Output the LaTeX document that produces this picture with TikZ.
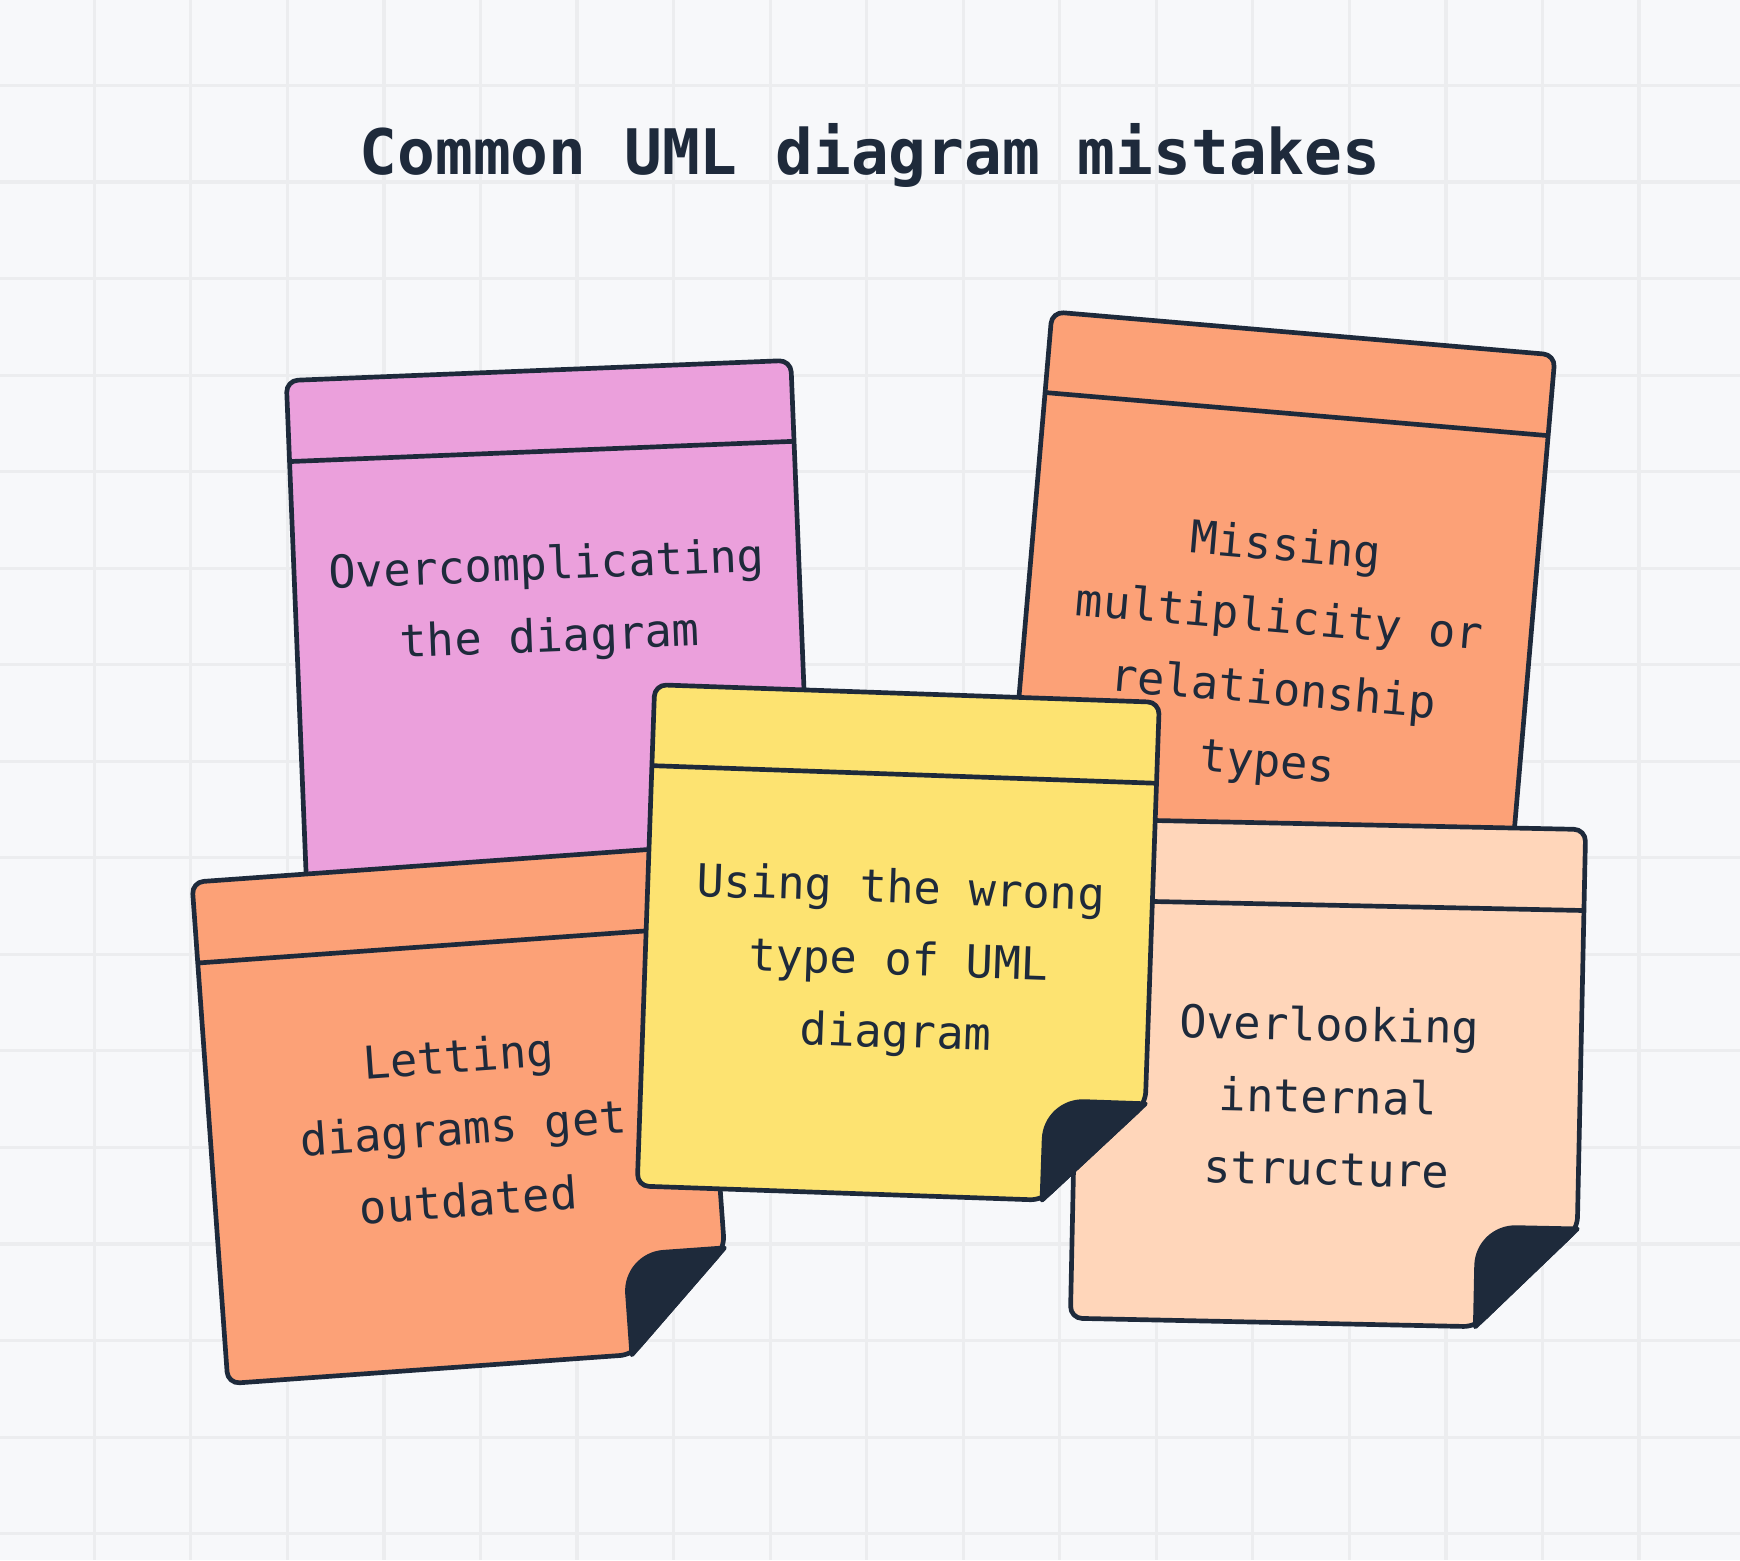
\documentclass[tikz,border=0pt]{standalone}
\usepackage{fontspec}
\setmonofont{DejaVu Sans Mono}
\usetikzlibrary{positioning}
\definecolor{bgcol}{HTML}{F7F8FA}
\definecolor{gridcol}{HTML}{ECEDEF}
\definecolor{inkcol}{HTML}{1E2A3B}
\definecolor{pinknote}{HTML}{EBA0DC}
\definecolor{orangenote}{HTML}{FCA177}
\definecolor{yellownote}{HTML}{FDE371}
\definecolor{peachnote}{HTML}{FFD6BA}

\tikzset{
  notebody/.style={draw=inkcol, line width=1.2pt, rounded corners=3pt, line join=round},
  noteband/.style={draw=inkcol, line width=1.2pt},
  notetext/.style={font=\ttfamily\fontsize{11.6}{18.5}\selectfont, text=inkcol, align=center},
  notefold/.style={fill=inkcol, draw=inkcol, line width=1.2pt, line join=round}
}

% #1 name, #2 top-left x, #3 top-left y, #4 angle, #5 height, #6 colour, #7 text y, #8 text
\newcommand\stickynote[8]{%
  \begin{scope}[shift={(#2,#3)}, rotate=#4]
    \path[notebody, fill=#6] (0,0) -- (4.55,0) -- (4.55,-#5+0.9) -- (3.65,-#5) -- (0,-#5) -- cycle;
    \draw[noteband] (0,-0.73) -- (4.55,-0.73);
    \path[notefold] (4.55,-#5+0.9) -- (3.65,-#5) -- (3.65,-#5+0.55)
      to[out=90,in=180] (4.0,-#5+0.9) -- cycle;
    \node[notetext, rotate=#4] (#1) at (2.28,#7) {#8};
  \end{scope}}

\begin{document}
\begin{tikzpicture}
  \fill[bgcol] (0,0) rectangle (15.68,-14.06);
  \useasboundingbox (0,0) rectangle (15.68,-14.06);
  % grid
  \foreach \gx in {0.85,1.72,...,15.6} \draw[gridcol, line width=0.8pt] (\gx,0) -- (\gx,-14.06);
  \foreach \gy in {-0.77,-1.64,...,-14.0} \draw[gridcol, line width=0.8pt] (0,\gy) -- (15.68,\gy);

  \node[font=\ttfamily\bfseries\fontsize{16.1}{20}\selectfont, text=inkcol] (title) at (7.84,-1.40) {Common UML diagram mistakes};

  \stickynote{overcomp}{2.58}{-3.43}{2.3}{5.4}{pinknote}{-2.1}{Overcomplicating\\the diagram}
  \stickynote{multiplicity}{9.48}{-2.81}{-4.9}{5.6}{orangenote}{-2.92}{Missing\\multiplicity or\\relationship\\types}
  \stickynote{outdated}{1.73}{-7.95}{4.1}{4.53}{orangenote}{-2.38}{Letting\\diagrams get\\outdated}
  \stickynote{internal}{9.74}{-7.38}{-1.2}{4.5}{peachnote}{-2.45}{Overlooking\\internal\\structure}
  \stickynote{wrongtype}{5.90}{-6.17}{-2.0}{4.52}{yellownote}{-2.43}{Using the wrong\\type of UML\\diagram}
\end{tikzpicture}
\end{document}
